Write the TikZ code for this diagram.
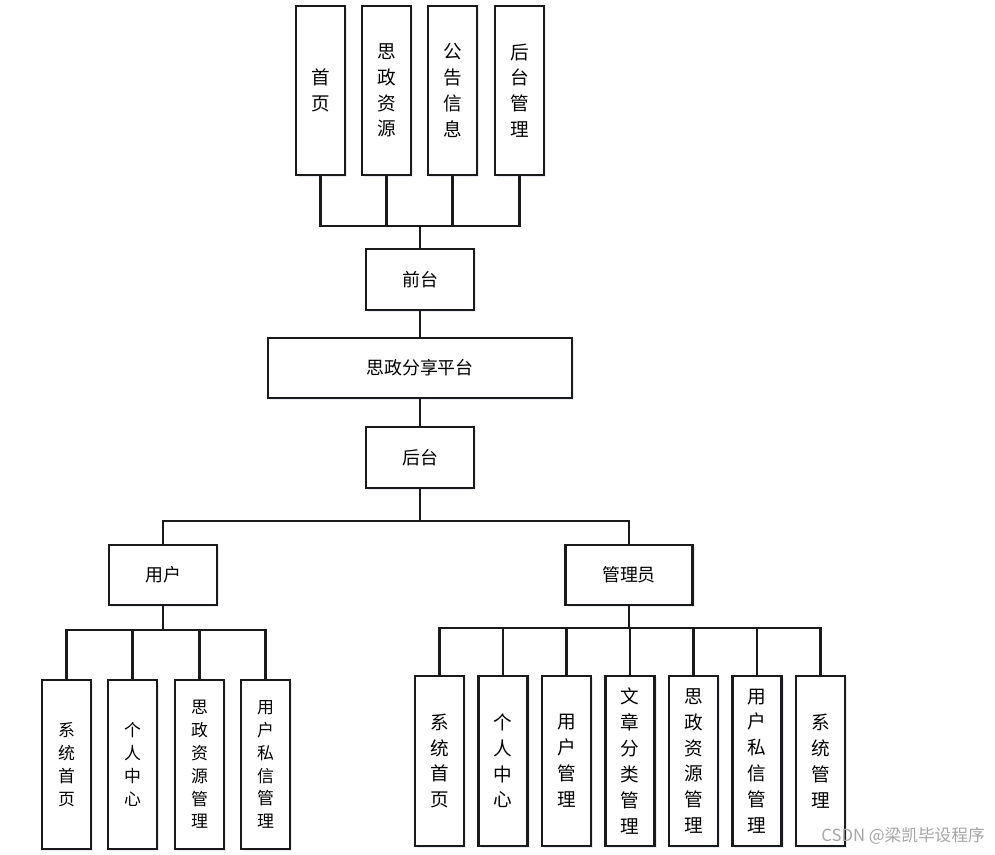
\documentclass[tikz,border=0pt]{standalone}
\usepackage{fontspec}
\setmainfont{Noto Sans CJK SC}
\usetikzlibrary{positioning,shadows,calc}
\definecolor{boxB}{HTML}{1A1A1A}
\definecolor{shadowC}{HTML}{B8C8E0}
\tikzset{
 box/.style={draw=boxB, line width=1.2pt, fill=white, inner sep=0pt, align=center,
             drop shadow={opacity=0.35, fill=shadowC, shadow xshift=1.2pt, shadow yshift=-1.2pt}},
 hbox/.style={box, minimum width=2.16cm, minimum height=1.22cm, font=\fontsize{10.2}{12}\selectfont},
 vbox/.style={box, minimum width=0.98cm, minimum height=3.38cm, font=\fontsize{10.6}{14.7}\selectfont},
 sbox/.style={vbox, font=\fontsize{9.6}{13}\selectfont},
 lin/.style={line width=1.35pt, draw=boxB},
}
\begin{document}
\begin{tikzpicture}[x=0.02cm, y=-0.02cm]
\useasboundingbox[fill=white] (0,0) rectangle (995,855);
% front modules
\node[vbox] (home)   at (320.5,90.5) {首\\页};
\node[vbox] (res)    at (386.5,90.5) {思\\政\\资\\源};
\node[vbox] (notice) at (452.5,90.5) {公\\告\\信\\息};
\node[vbox] (manage) at (519.5,90.5) {后\\台\\管\\理};
% main chain
\node[hbox] (front)    at (420,279.5) {前台};
\node[hbox, minimum width=6.08cm, minimum height=1.2cm] (platform) at (420,368) {思政分享平台};
\node[hbox] (back)     at (420,457.5) {后台};
% roles
\node[hbox, minimum height=1.2cm] (user) at (163,575) {用户};
\node[hbox, minimum width=2.54cm, minimum height=1.2cm] (admin) at (629,575) {管理员};
% user modules
\node[sbox] (uhome) at (66.5,764.5)  {系\\统\\首\\页};
\node[sbox] (uself) at (132.5,764.5) {个\\人\\中\\心};
\node[sbox] (ures)  at (199.5,764.5) {思\\政\\资\\源\\管\\理};
\node[sbox] (umsg)  at (265.5,764.5) {用\\户\\私\\信\\管\\理};
% admin modules
\node[vbox, minimum height=3.4cm] (ahome) at (439.5,761) {系\\统\\首\\页};
\node[vbox, minimum height=3.4cm] (aself) at (503,761)   {个\\人\\中\\心};
\node[vbox, minimum height=3.4cm] (auser) at (566.5,761) {用\\户\\管\\理};
\node[vbox, minimum height=3.4cm] (acat)  at (630,761)   {文\\章\\分\\类\\管\\理};
\node[vbox, minimum height=3.4cm] (ares)  at (693.5,761) {思\\政\\资\\源\\管\\理};
\node[vbox, minimum height=3.4cm] (amsg)  at (757,761)   {用\\户\\私\\信\\管\\理};
\node[vbox, minimum height=3.4cm] (asys)  at (820.5,761) {系\\统\\管\\理};
% watermark
\node[text=black!35, font=\fontsize{9.5}{11}\selectfont, anchor=east] (wm) at (991,836) {CSDN @梁凯毕设程序};
% connectors
\coordinate (bf) at (420,226);
\draw[lin] (front.north) -- (bf);
\foreach \n in {home,res,notice,manage}
  \draw[lin] (\n.south) |- (bf);
\draw[lin] (front.south) -- (platform.north);
\draw[lin] (platform.south) -- (back.north);
\coordinate (bb) at (420,521);
\draw[lin] (back.south) -- (bb);
\draw[lin] (user.north) |- (bb);
\draw[lin] (admin.north) |- (bb);
\coordinate (bu) at (163,630);
\draw[lin] (user.south) -- (bu);
\foreach \n in {uhome,uself,ures,umsg}
  \draw[lin] (\n.north) |- (bu);
\coordinate (ba) at (629,628);
\draw[lin] (admin.south) -- (ba);
\foreach \n in {ahome,aself,auser,acat,ares,amsg,asys}
  \draw[lin] (\n.north) |- (ba);
\end{tikzpicture}
\end{document}
